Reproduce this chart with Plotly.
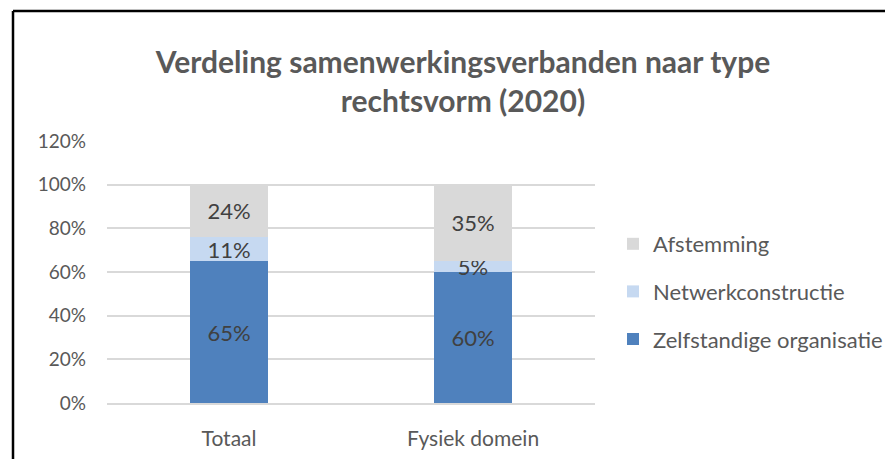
import plotly.graph_objects as go

# -----------------------------
# Data
# -----------------------------
categories = ["Totaal", "Fysiek domein"]
zelfstandig = [0.65, 0.60]
netwerk = [0.11, 0.05]
afstemming = [0.24, 0.35]
y_ticks = [0, 0.2, 0.4, 0.6, 0.8, 1.0, 1.2]
y_tick_labels = ["0%", "20%", "40%", "60%", "80%", "100%", "120%"]

FONT = "Lato, 'Open Sans', sans-serif"
GREY = "#595959"

# the page body has an 8px margin, so the figure is a bit smaller
OFF = 8
W, H = 893 - OFF, 459 - OFF
ML, MR, MT, MB = 107 - OFF, 298, 141 - OFF, 56


def px_to_paper_x(px):
    # px measured on the page
    return (px - OFF - ML) / (W - ML - MR)


def px_to_paper_y(py):
    return (H - MB - (py - OFF)) / (H - MT - MB)


# stacking order bottom -> top; legend shows top segment first
series = [
    ("Zelfstandige organisatie", zelfstandig, "#4f81bd", 3),
    ("Netwerkconstructie", netwerk, "#c6d9f1", 2),
    ("Afstemming", afstemming, "#d9d9d9", 1),
]

fig = go.Figure()
for name, vals, color, rank in series:
    fig.add_trace(go.Bar(
        name=name,
        legendgroup=name,
        legendrank=rank,
        x=categories,
        y=vals,
        marker=dict(color=color, line=dict(width=0)),
        text=[f"{round(v * 100)}%" for v in vals],
        textposition="inside",
        insidetextanchor="middle",
        constraintext="none",
        textfont=dict(family=FONT, size=22, color="#404040"),
        cliponaxis=False,
    ))

fig.update_layout(
    width=W,
    height=H,
    barmode="stack",
    bargap=0.684,
    paper_bgcolor="white",
    plot_bgcolor="white",
    margin=dict(l=ML, r=MR, t=MT, b=MB, autoexpand=False),
    font=dict(family=FONT, color=GREY),
    title=dict(
        text="<b>Verdeling samenwerkingsverbanden naar type<br>rechtsvorm (2020)</b>",
        x=(463 - OFF) / W,
        xanchor="center",
        y=1 - (73 - OFF) / H,
        yanchor="middle",
        font=dict(family=FONT, size=30, color=GREY),
    ),
    legend=dict(
        traceorder="grouped",
        x=px_to_paper_x(613),
        xanchor="left",
        y=px_to_paper_y(223),
        yanchor="top",
        font=dict(family=FONT, size=22, color=GREY),
        itemwidth=30,
        tracegroupgap=16,
        bgcolor="rgba(0,0,0,0)",
    ),
    showlegend=True,
)

fig.update_xaxes(
    showgrid=False,
    showline=True,
    linecolor="#d9d9d9",
    linewidth=2,
    tickfont=dict(family=FONT, size=21, color=GREY),
    ticks="",
    ticklabelstandoff=16,
)
fig.update_yaxes(
    range=[0, 1.2],
    tickvals=y_ticks,
    ticktext=y_tick_labels,
    showgrid=True,
    gridcolor="#d9d9d9",
    gridwidth=2,
    zeroline=False,
    tickfont=dict(family=FONT, size=19, color=GREY),
    ticks="",
    ticklabelstandoff=20,
)

# frame (top + left border of the original picture)
x_left = px_to_paper_x(13)
y_top = px_to_paper_y(11)
fig.add_shape(type="line", xref="paper", yref="paper",
              x0=x_left, x1=px_to_paper_x(900), y0=y_top, y1=y_top,
              line=dict(color="black", width=2.5))
fig.add_shape(type="line", xref="paper", yref="paper",
              x0=x_left, x1=x_left, y0=y_top, y1=px_to_paper_y(470),
              line=dict(color="black", width=2.5))

fig.write_html("out.html")
